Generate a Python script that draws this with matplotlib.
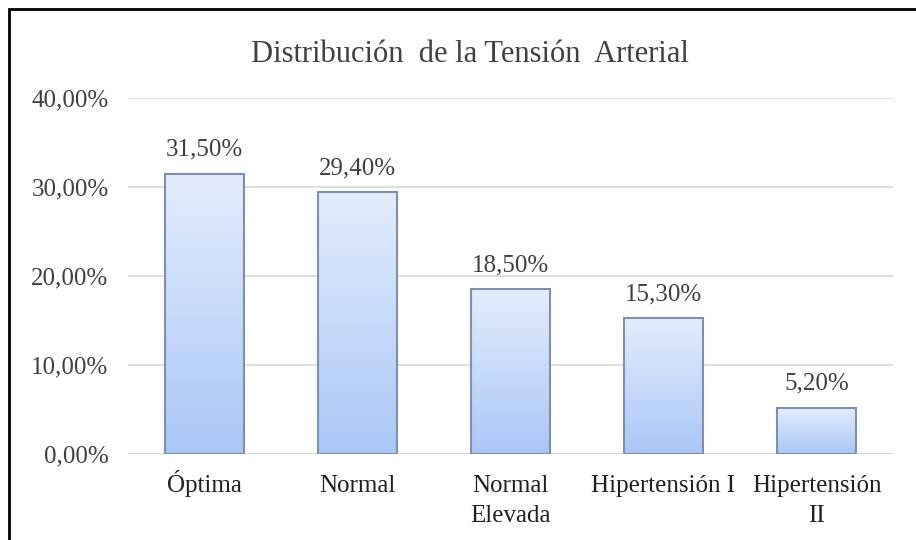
import matplotlib
matplotlib.use("Agg")
import matplotlib.pyplot as plt
import numpy as np
from matplotlib.colors import LinearSegmentedColormap
from matplotlib.patches import Rectangle

categories = ["Óptima", "Normal", "Normal\nElevada", "Hipertensión I", "Hipertensión\nII"]
values = [31.5, 29.4, 18.5, 15.3, 5.2]
labels = ["31,50%", "29,40%", "18,50%", "15,30%", "5,20%"]
yticks = [0, 10, 20, 30, 40]
ytick_labels = ["0,00%", "10,00%", "20,00%", "30,00%", "40,00%"]

plt.rcParams['font.family'] = ['Liberation Serif', 'DejaVu Serif']

fig = plt.figure(figsize=(9.16, 5.4), dpi=100)
ax = fig.add_axes([128/916, 1-454/540, (893-128)/916, (454-98)/540])

x = np.arange(len(categories))
bars = ax.bar(x, values, width=0.51, color='none', edgecolor='#7e8fb0', linewidth=1.5, zorder=3)

cmap = LinearSegmentedColormap.from_list('g', ['#a9c7f6', '#e3edfc'])
grad = np.linspace(0, 1, 256).reshape(-1, 1)
for b in bars:
    x0, y0 = b.get_x(), b.get_y()
    w, h = b.get_width(), b.get_height()
    im = ax.imshow(grad, extent=[x0, x0 + w, y0, y0 + h], origin='lower',
                   cmap=cmap, aspect='auto', zorder=2)
    im.set_clip_path(b)

for xi, v, lab in zip(x, values, labels):
    ax.text(xi, v + 2.0, lab, ha='center', va='baseline', fontsize=18, color='#404040')

ax.set_xlim(-0.5, len(categories) - 0.5)
ax.set_ylim(0, 40)
ax.set_yticks(yticks)
ax.set_yticklabels(ytick_labels, fontsize=18, color='#404040')
ax.set_xticks(x)
ax.set_xticklabels([""] * len(categories))
for xi, cat in zip(x, categories):
    for i, line in enumerate(cat.split("\n")):
        ax.annotate(line, xy=(xi, 0), xycoords=('data', 'axes fraction'),
                    xytext=(0, -38 - 30 * i), textcoords='offset pixels',
                    ha='center', va='baseline', fontsize=18, color='#202020',
                    annotation_clip=False)
ax.tick_params(length=0)
ax.tick_params(axis='y', pad=14)
ax.grid(axis='y', color='#d9d9d9', linewidth=1.2, zorder=0)
ax.set_axisbelow(True)
for s in ax.spines.values():
    s.set_visible(False)
ax.axhline(0, color='#d9d9d9', linewidth=1.2, zorder=1)

fig.text(470/916, 1-62/540, "Distribución  de la Tensión  Arterial", ha='center', va='baseline',
         fontsize=22, color='#404040')

# outer border
fig.add_artist(Rectangle((9/916, -0.01), 1.02, 1 - 9/540 + 0.01, transform=fig.transFigure,
                         fill=False, edgecolor='black', linewidth=2))

fig.savefig("out.png", dpi=100)
